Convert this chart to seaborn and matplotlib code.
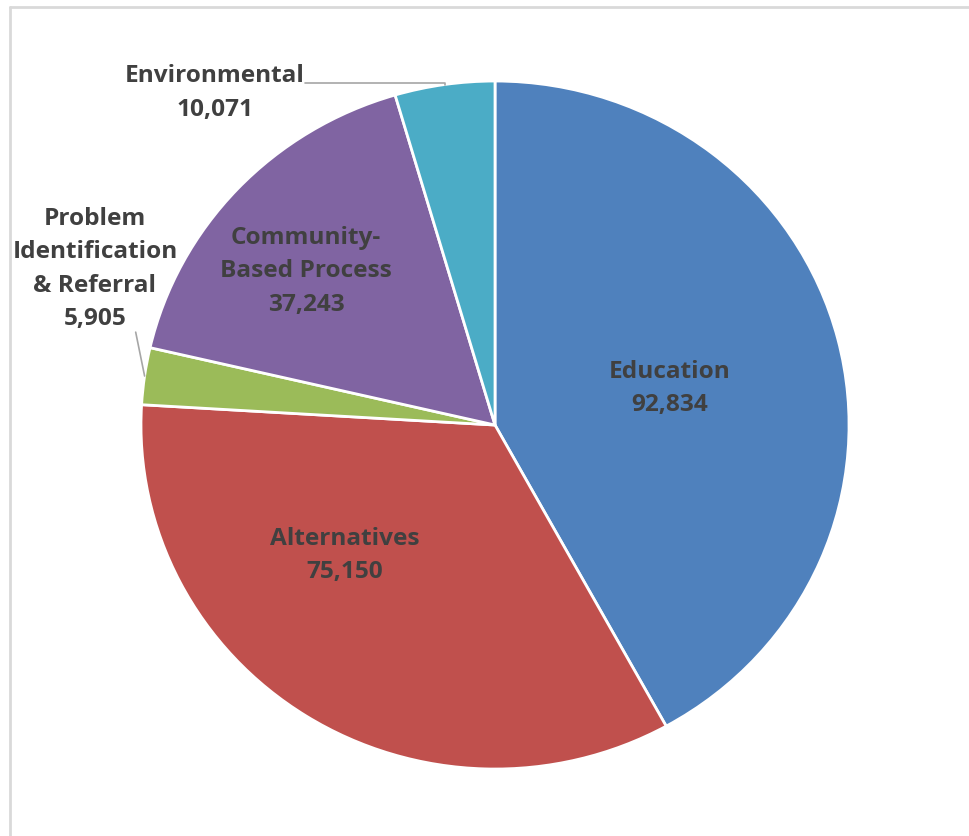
import matplotlib
matplotlib.use("Agg")
import matplotlib.pyplot as plt
from matplotlib.lines import Line2D
import numpy as np
import seaborn as sns

# Program participation by strategy
categories = ["Education", "Alternatives", "Problem\nIdentification\n& Referral",
              "Community-\nBased Process", "Environmental"]
values = [92834, 75150, 5905, 37243, 10071]
colors = ["#4F81BD", "#C0504D", "#9BBB59", "#8064A2", "#4BACC6"]

sns.set_theme(style="white")
plt.rcParams["font.family"] = ["Open Sans", "DejaVu Sans"]

fig = plt.figure(figsize=(9.69, 8.37), dpi=100)
fig.patch.set_facecolor("white")

# light frame along the top and left edges
fig.add_artist(Line2D([10 / 969, 10 / 969], [0, 1 - 8 / 837], transform=fig.transFigure,
                      color="#D9D9D9", lw=2))
fig.add_artist(Line2D([10 / 969, 1], [1 - 8 / 837, 1 - 8 / 837], transform=fig.transFigure,
                      color="#D9D9D9", lw=2))

ax = fig.add_axes([0.1455, 0.080, 0.7307, 0.822])
wedges, _ = ax.pie(values, colors=colors, startangle=90, counterclock=False,
                   wedgeprops=dict(edgecolor="white", linewidth=2))
ax.set_aspect("auto")
ax.set_xlim(-1, 1)
ax.set_ylim(-1, 1)
ax.axis("off")

txt = dict(color="#404040", fontsize=17.6, fontweight="bold", ha="center", va="center",
           linespacing=1.52)

def lbl(i):
    return f"{categories[i]}\n{values[i]:,}"

ax.text(0.494, 0.110, lbl(0), **txt)
ax.text(-0.424, -0.377, lbl(1), **txt)
ax.text(-0.534, 0.450, lbl(3), **txt)
ax.text(-1.13, 0.456, lbl(2), **txt)
ax.text(-0.791, 0.968, lbl(4), **txt)

# leader lines to the edge midpoints of the two small wedges
def edge_mid(w):
    a = np.deg2rad((w.theta1 + w.theta2) / 2)
    return np.cos(a), np.sin(a)

ex, ey = edge_mid(wedges[4])
ax.plot([-0.536, ex, ex], [0.994, 0.994, ey], color="#A6A6A6", lw=1.2, clip_on=False)
px, py = edge_mid(wedges[2])
ax.plot([-1.015, px], [0.270, py], color="#A6A6A6", lw=1.2, clip_on=False)

fig.savefig("out.png", dpi=100, facecolor="white")
